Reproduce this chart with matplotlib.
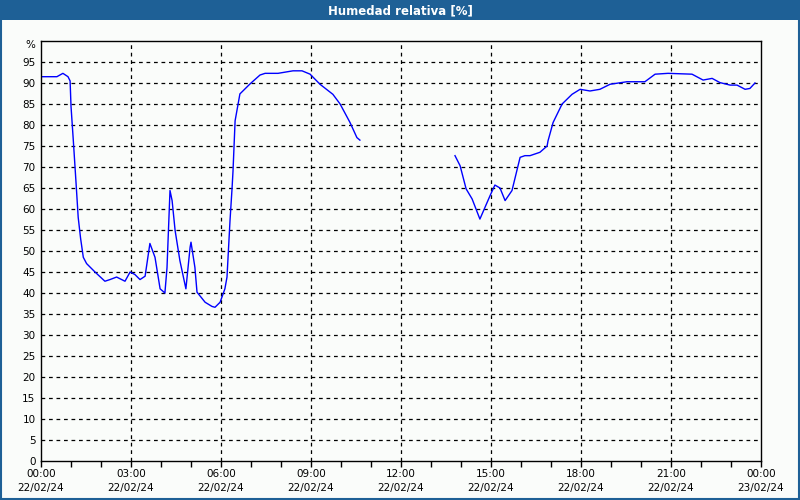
import numpy as np
import matplotlib
matplotlib.use("Agg")
import matplotlib.pyplot as plt
from matplotlib.patches import Rectangle

# hours since 22/02/24 00:00 and relative humidity (%), NaN = no data
hours = [0.0, 0.53, 0.73, 0.9, 0.97, 1.0, 1.08, 1.17, 1.24, 1.32, 1.41, 1.52,
         1.8, 2.13, 2.3, 2.52, 2.8, 2.97, 3.13, 3.3, 3.47, 3.63, 3.8, 3.97,
         4.13, 4.2, 4.3, 4.37, 4.47, 4.63, 4.83, 4.97, 5.0, 5.13, 5.2, 5.47,
         5.7, 5.8, 5.97, 6.13, 6.2, 6.3, 6.37, 6.4, 6.47, 6.63, 6.97, 7.3,
         7.47, 7.9, 8.4, 8.7, 8.97, 9.3, 9.73, 9.97, 10.3, 10.53, 10.63,
         12.2,
         13.8, 13.97, 14.17, 14.37, 14.63, 14.97, 15.13, 15.3, 15.47, 15.7,
         15.97, 16.13, 16.3, 16.63, 16.87, 16.9, 17.07, 17.37, 17.7, 17.97,
         18.3, 18.63, 18.97, 19.53, 20.13, 20.47, 20.9, 21.7, 22.07, 22.37,
         22.63, 22.97, 23.2, 23.47, 23.63, 23.8]
humidity = [91.5, 91.5, 92.3, 91.5, 90.5, 84.5, 76, 66, 58, 53, 48.5, 47,
            45, 42.8, 43.2, 43.8, 42.8, 45, 44.4, 43.2, 44, 51.8, 48.5, 41,
            40, 46, 64.4, 62, 54.9, 47.7, 41, 50.9, 52.1, 46.1, 40.2, 37.8,
            36.8, 36.6, 37.8, 41, 43.8, 57.2, 65.1, 69, 81, 87.4, 89.8, 91.9,
            92.3, 92.3, 92.9, 92.9, 92.1, 89.7, 87.3, 85, 80.6, 77, 76.4,
            np.nan,
            72.7, 70.3, 64.8, 62.4, 57.6, 63.2, 65.7, 65, 62, 64.4,
            72.3, 72.7, 72.7, 73.5, 75, 76.2, 80.6, 85, 87.3, 88.5,
            88.1, 88.5, 89.7, 90.3, 90.3, 92.1, 92.3, 92.1, 90.7, 91.1,
            90.1, 89.5, 89.5, 88.5, 88.7, 90]

xticks = [0, 3, 6, 9, 12, 15, 18, 21, 24]
xlabels = ["00:00\n22/02/24", "03:00\n22/02/24", "06:00\n22/02/24",
           "09:00\n22/02/24", "12:00\n22/02/24", "15:00\n22/02/24",
           "18:00\n22/02/24", "21:00\n22/02/24", "00:00\n23/02/24"]
yticks = list(range(0, 96, 5))
ylabels = [str(v) for v in yticks]

bg = "#fafcfa"
fig = plt.figure(figsize=(8, 5), dpi=100, facecolor=bg)

# title bar and border
fig.patches.append(Rectangle((0, 0.96), 1, 0.04, transform=fig.transFigure,
                             facecolor="#1e6096", edgecolor="none", zorder=0))
fig.patches.append(Rectangle((0.001, 0.002), 0.998, 0.996, transform=fig.transFigure,
                             facecolor="none", edgecolor="#1e6096", lw=1.5, zorder=1))
fig.text(0.5, 0.979, "Humedad relativa [%]", color="white", fontsize=8.5,
         fontweight="bold", ha="center", va="center")

ax = fig.add_axes([41 / 800, 1 - 461 / 500, 720 / 800, 420 / 500], facecolor=bg)
ax.plot(hours, humidity, color="#0000ff", lw=1)

ax.set_xlim(0, 24)
ax.set_ylim(0, 100)
ax.set_xticks(xticks)
ax.set_xticklabels(xlabels, fontsize=7.5, linespacing=1.5)
ax.set_xticks(range(0, 25), minor=True)
ax.set_yticks(yticks)
ax.set_yticklabels(ylabels, fontsize=7.5)
ax.tick_params(axis="x", which="both", length=4, width=1, direction="out", pad=2)
ax.tick_params(axis="y", length=0, pad=4)
ax.text(-0.008, 99, "%", transform=ax.get_yaxis_transform(), fontsize=7.5,
        ha="right", va="center")

for v in yticks[1:]:
    ax.axhline(v, color="black", lw=0.9, ls=(0, (3, 3)), zorder=0)
for v in xticks[1:-1]:
    ax.axvline(v, color="black", lw=0.9, ls=(0, (3, 3)), zorder=0)

for s in ax.spines.values():
    s.set_linewidth(1)
    s.set_color("black")

fig.savefig("out.png", dpi=100, facecolor=bg)
